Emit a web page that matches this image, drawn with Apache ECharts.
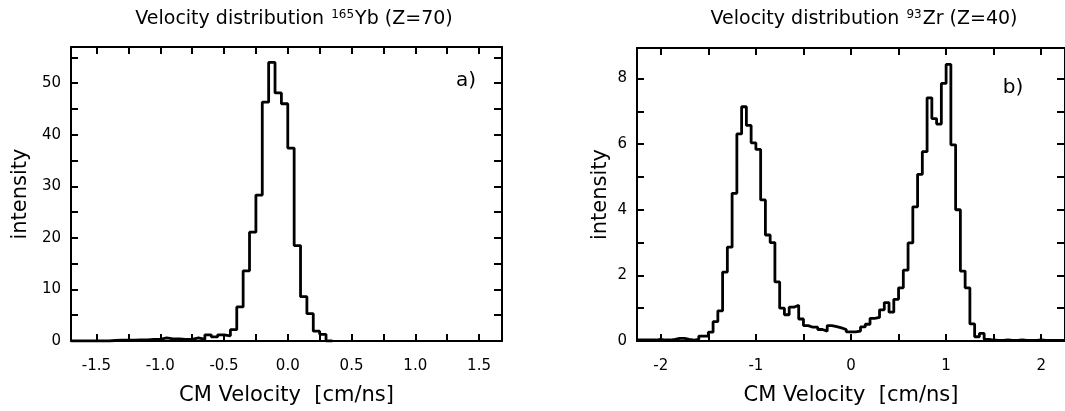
<!DOCTYPE html>
<html>
<head>
<meta charset="utf-8">
<script src="https://cdn.jsdelivr.net/npm/echarts@6.0.0/dist/echarts.min.js"></script>
<style>
html, body { margin: 0; padding: 0; background: #fff; }
#chart { width: 1065px; height: 411px; }
</style>
</head>
<body>
<div id="chart"></div>
<script>
// histogram bin width (cm/ns)
const BIN_W = 0.05

// panel a) 165Yb, bins start at -1.70
const ybStart = -1.70
const ybCounts = [
  0, 0, 0, 0, 0, 0, 0.1, 0.15, 0.15, 0.15,
  0.2, 0.2, 0.3, 0.3, 0.6, 0.4, 0.4, 0.3, 0.3, 0.6,
  0.3, 1.2, 0.8, 1.2, 1.0, 2.2, 6.6, 13.6, 21.1, 28.3,
  46.3, 54.0, 48.1, 46.0, 37.4, 18.5, 8.6, 5.3, 1.9, 1.3,
  0
]

// panel b) 93Zr, bins start at -2.25
const zrStart = -2.25
const zrCounts = [
  0.03, 0.03, 0.03, 0.03, 0.05, 0.03, 0.03, 0.05, 0.08, 0.08,
  0.05, 0.03, 0.05, 0.15, 0.15, 0.27, 0.59, 0.92, 2.10, 2.86,
  4.50, 6.31, 7.14, 6.57, 6.04, 5.84, 4.30, 3.23, 3.00, 1.80,
  1.00, 0.80, 1.03, 1.09, 0.67, 0.47, 0.42, 0.42, 0.35, 0.30,
  0.47, 0.44, 0.40, 0.35, 0.28, 0.28, 0.30, 0.43, 0.51, 0.69,
  0.72, 0.95, 1.17, 0.88, 1.27, 1.62, 2.16, 2.99, 4.09, 5.08,
  5.77, 7.41, 6.78, 6.61, 7.85, 8.43, 5.98, 4.00, 2.13, 1.62,
  0.52, 0.13, 0.23, 0.05, 0.03, 0.02, 0.02, 0.03, 0.02, 0.02,
  0.03, 0.02, 0.02, 0.02, 0.03, 0.02, 0.02, 0.02, 0.02, 0.02
]

// axis ticks / labels
const ybXTicks = [-1.5, -1.25, -1, -0.75, -0.5, -0.25, 0, 0.25, 0.5, 0.75, 1, 1.25, 1.5]
const ybXLabels = [-1.5, -1, -0.5, 0, 0.5, 1, 1.5]
const ybYTicks = [0, 5, 10, 15, 20, 25, 30, 35, 40, 45, 50, 55]
const ybYLabels = [0, 10, 20, 30, 40, 50]
const zrXTicks = [-2, -1.5, -1, -0.5, 0, 0.5, 1, 1.5, 2]
const zrXLabels = [-2, -1, 0, 1, 2]
const zrYTicks = [0, 1, 2, 3, 4, 5, 6, 7, 8]
const zrYLabels = [0, 2, 4, 6, 8]

function histPoints(start, counts) {
  const pts = counts.map((c, i) => [+(start + i * BIN_W).toFixed(2), c])
  pts.push([+(start + counts.length * BIN_W).toFixed(2), counts[counts.length - 1]])
  return pts
}

const FONT = 'DejaVu Sans'
const lineStyle = { color: '#000', width: 2 }

function xAxes(grid, min, max, ticks, labels, digits) {
  return [{
    type: 'value', gridIndex: grid, position: 'bottom', min: min, max: max,
    axisLine: { onZero: false, lineStyle: lineStyle },
    axisTick: { inside: true, length: 7, customValues: ticks, lineStyle: lineStyle },
    splitLine: { show: false },
    axisLabel: {
      customValues: labels, margin: 18, color: '#000',
      fontFamily: FONT, fontSize: 15,
      formatter: v => v.toFixed(digits)
    },
    name: 'CM Velocity  [cm/ns]', nameLocation: 'middle', nameGap: 44,
    nameTextStyle: { fontFamily: FONT, fontSize: 21, color: '#000' }
  }, {
    type: 'value', gridIndex: grid, position: 'top', min: min, max: max,
    axisLine: { onZero: false, lineStyle: lineStyle },
    axisTick: { inside: true, length: 7, customValues: ticks, lineStyle: lineStyle },
    splitLine: { show: false },
    axisLabel: { show: false }
  }]
}

function yAxes(grid, max, ticks, labels, gap) {
  return [{
    type: 'value', gridIndex: grid, position: 'left', min: 0, max: max,
    axisLine: { show: true, onZero: false, lineStyle: lineStyle },
    axisTick: { show: true, inside: true, length: 7, customValues: ticks, lineStyle: lineStyle },
    splitLine: { show: false },
    axisLabel: {
      customValues: labels, margin: 10, color: '#000',
      fontFamily: FONT, fontSize: 15
    },
    name: 'intensity', nameLocation: 'middle', nameGap: gap, nameRotate: 90,
    nameTextStyle: { fontFamily: FONT, fontSize: 21, color: '#000' }
  }, {
    type: 'value', gridIndex: grid, position: 'right', min: 0, max: max,
    axisLine: { show: true, onZero: false, lineStyle: lineStyle },
    axisTick: { show: true, inside: true, length: 8, customValues: ticks, lineStyle: lineStyle },
    splitLine: { show: false },
    axisLabel: { show: false }
  }]
}

const titleRich = {
  n: { fontFamily: FONT, fontSize: 19, fontWeight: 'normal', color: '#000' },
  s: { fontFamily: FONT, fontSize: 12, fontWeight: 'normal', color: '#000', verticalAlign: 'bottom', padding: [0, 1, 8, 1] }
}

const option = {
  animation: false,
  backgroundColor: '#fff',
  title: [{
    text: '{n|Velocity distribution }{s|165}{n|Yb (Z=70)}',
    left: 289, top: 4, textAlign: 'center',
    textStyle: { fontWeight: 'normal', rich: titleRich }
  }, {
    text: '{n|Velocity distribution }{s|93}{n|Zr (Z=40)}',
    left: 859, top: 4, textAlign: 'center',
    textStyle: { fontWeight: 'normal', rich: titleRich }
  }],
  grid: [
    { left: 71, top: 47, width: 431, height: 298 },
    { left: 637, top: 48, width: 434, height: 300 }
  ],
  xAxis: [
    ...xAxes(0, -1.7, 1.68, ybXTicks, ybXLabels, 1),
    ...xAxes(1, -2.25, 2.25, zrXTicks, zrXLabels, 0)
  ],
  yAxis: [
    ...yAxes(0, 57, ybYTicks, ybYLabels, 40),
    ...yAxes(1, 8.93, zrYTicks, zrYLabels, 26)
  ],
  graphic: [
    { type: 'text', x: 466, y: 81, style: { text: 'a)', font: '20px "DejaVu Sans"', fill: '#000', align: 'center', verticalAlign: 'middle' } },
    { type: 'text', x: 1013, y: 88, style: { text: 'b)', font: '20px "DejaVu Sans"', fill: '#000', align: 'center', verticalAlign: 'middle' } }
  ],
  series: [{
    type: 'line', xAxisIndex: 0, yAxisIndex: 0, step: 'end',
    showSymbol: false, symbol: 'none',
    lineStyle: { color: '#000', width: 2.8 },
    data: histPoints(ybStart, ybCounts)
  }, {
    type: 'line', xAxisIndex: 2, yAxisIndex: 2, step: 'end',
    showSymbol: false, symbol: 'none',
    lineStyle: { color: '#000', width: 2.8 },
    data: histPoints(zrStart, zrCounts)
  }]
}

const chart = echarts.init(document.getElementById('chart'))
chart.setOption(option)
</script>
</body>
</html>
